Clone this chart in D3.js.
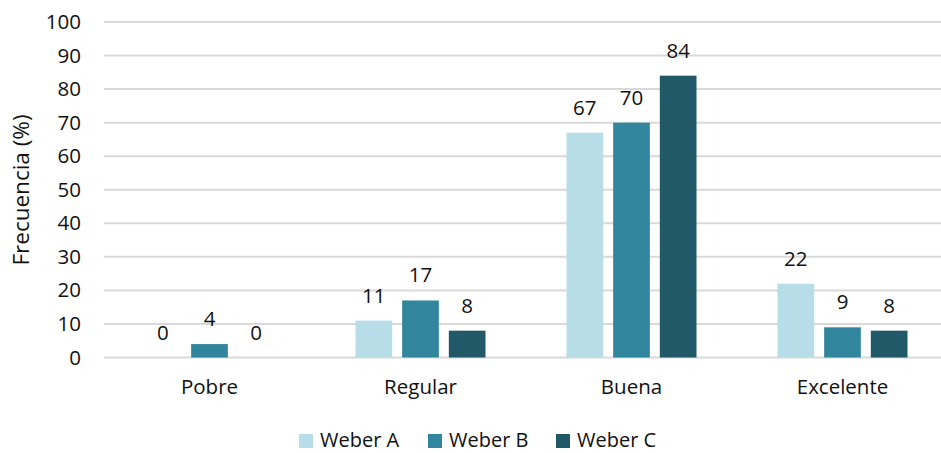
<!DOCTYPE html>
<html>
<head>
<meta charset="utf-8">
<script src="https://cdn.jsdelivr.net/npm/d3@7"></script>
<style>
  html, body { margin: 0; padding: 0; background: #fff; }
  svg { display: block; font-family: "Open Sans", sans-serif; }
</style>
</head>
<body>
<svg id="chart" width="941" height="453"></svg>
<script>
// Categories and series
const categories = ["Pobre", "Regular", "Buena", "Excelente"];
const seriesNames = ["Weber A", "Weber B", "Weber C"];
const weberA = [0, 11, 67, 22];
const weberB = [4, 17, 70, 9];
const weberC = [0, 8, 84, 8];
const yTicks = [0, 10, 20, 30, 40, 50, 60, 70, 80, 90, 100];
const colors = ["#b7dde8", "#31859c", "#215968"];

const seriesValues = [weberA, weberB, weberC];
const rows = categories.map((c, i) => ({
  category: c,
  values: seriesNames.map((s, j) => ({ series: s, idx: j, value: seriesValues[j][i] }))
}));

const textColor = "#111";
const fontSize = 20.5;

const svg = d3.select("#chart");
const plotLeft = 104, plotRight = 948, plotTop = 22, plotBottom = 357.5;

const x = d3.scaleBand().domain(categories).range([plotLeft, plotRight]).paddingInner(0).paddingOuter(0);
const groupWidth = 130;
const xs = d3.scaleBand().domain(seriesNames).range([0, groupWidth]).paddingInner(0.214).paddingOuter(0);
const y = d3.scaleLinear().domain([0, 100]).range([plotBottom, plotTop]);

// Horizontal gridlines
svg.append("g")
  .selectAll("line")
  .data(yTicks)
  .join("line")
  .attr("x1", plotLeft).attr("x2", 941)
  .attr("y1", d => y(d)).attr("y2", d => y(d))
  .attr("stroke", "#d9d9d9")
  .attr("stroke-width", 2);

// Y axis tick labels
const yAxis = d3.axisLeft(y).tickValues(yTicks).tickSize(0).tickPadding(0);
const gy = svg.append("g").attr("transform", `translate(${plotLeft - 23},0)`).call(yAxis);
gy.select(".domain").remove();
gy.selectAll("text")
  .attr("font-family", "Open Sans, sans-serif")
  .attr("font-size", fontSize)
  .attr("fill", textColor);

// X axis category labels
const xAxis = d3.axisBottom(x).tickSize(0).tickPadding(0);
const gx = svg.append("g").attr("transform", `translate(0,${plotBottom + 22})`).call(xAxis);
gx.select(".domain").remove();
gx.selectAll("text")
  .attr("font-family", "Open Sans, sans-serif")
  .attr("font-size", fontSize)
  .attr("fill", textColor);

// Bars
const groups = svg.append("g")
  .selectAll("g")
  .data(rows)
  .join("g")
  .attr("transform", d => `translate(${x(d.category) + (x.bandwidth() - groupWidth) / 2},0)`);

groups.selectAll("rect")
  .data(d => d.values)
  .join("rect")
  .attr("x", d => xs(d.series))
  .attr("width", xs.bandwidth())
  .attr("y", d => y(d.value))
  .attr("height", d => y(0) - y(d.value))
  .attr("fill", d => colors[d.idx]);

// Value labels
groups.selectAll("text")
  .data(d => d.values)
  .join("text")
  .attr("x", d => xs(d.series) + xs.bandwidth() / 2)
  .attr("y", d => y(d.value) - 18)
  .attr("text-anchor", "middle")
  .attr("font-size", fontSize)
  .attr("fill", textColor)
  .text(d => d.value);

// Y axis title
svg.append("text")
  .attr("transform", `translate(29,190) rotate(-90)`)
  .attr("text-anchor", "middle")
  .attr("font-size", 22.5)
  .attr("fill", textColor)
  .text("Frecuencia (%)");

// Legend
const legendX = [299, 428, 556];
const legend = svg.append("g")
  .selectAll("g")
  .data(seriesNames)
  .join("g")
  .attr("transform", (d, i) => `translate(${legendX[i]},434)`);
legend.append("rect")
  .attr("width", 14).attr("height", 14)
  .attr("fill", (d, i) => colors[i]);
legend.append("text")
  .attr("x", 21).attr("y", 13)
  .attr("font-size", 20)
  .attr("fill", textColor)
  .text(d => d);
</script>
</body>
</html>
